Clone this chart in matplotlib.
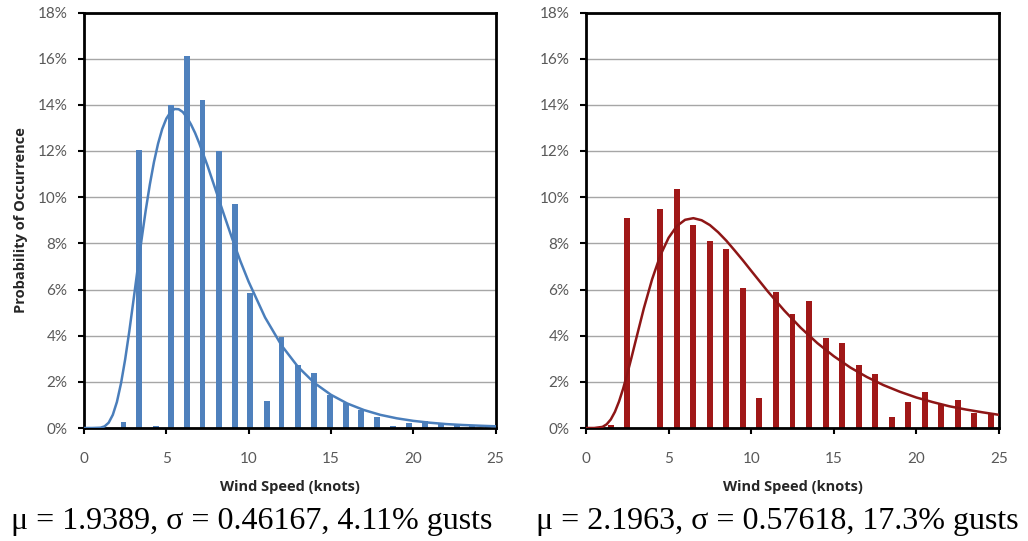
import matplotlib
matplotlib.use("Agg")
import matplotlib.pyplot as plt
from matplotlib.ticker import FuncFormatter

# ---------------- data ----------------
left_x = [2.4, 3.35, 4.35, 5.3, 6.25, 7.2, 8.2, 9.15, 10.1, 11.1, 12.0, 13.0,
          13.95, 14.95, 15.9, 16.85, 17.8, 18.8, 19.75, 20.7, 21.7, 22.65, 23.6, 24.55]
left_y = [0.25, 12.05, 0.1, 14.0, 16.1, 14.2, 12.0, 9.7, 5.85, 1.15, 3.95, 2.72,
          2.4, 1.43, 1.07, 0.78, 0.49, 0.1, 0.23, 0.29, 0.17, 0.13, 0.09, 0.06]

right_x = [1.5, 2.5, 4.5, 5.5, 6.5, 7.5, 8.5, 9.5, 10.5, 11.5, 12.5, 13.5,
           14.5, 15.5, 16.5, 17.5, 18.5, 19.5, 20.5, 21.5, 22.5, 23.5, 24.5]
right_y = [0.15, 9.1, 9.5, 10.35, 8.8, 8.1, 7.75, 6.05, 1.32, 5.88, 4.92, 5.5,
           3.9, 3.68, 2.75, 2.33, 0.46, 1.12, 1.55, 1.02, 1.2, 0.66, 0.66]

# fitted curves
left_curve_x = [0.0, 0.5, 1.0, 1.25, 1.5, 1.75, 2.0, 2.25, 2.5, 2.75, 3.0, 3.25,
                3.5, 3.75, 4.0, 4.25, 4.5, 4.75, 5.0, 5.25, 5.5, 5.75, 6.0, 6.25,
                6.5, 6.75, 7.0, 7.5, 8.0, 8.5, 9.0, 9.5, 10.0, 11.0, 12.0, 13.0,
                14.0, 15.0, 16.0, 17.0, 18.0, 19.0, 20.0, 21.0, 22.0, 23.0, 24.0,
                25.0]
left_curve = [0.0, 0.0, 0.013, 0.07, 0.23, 0.57, 1.13, 1.94, 2.97, 4.18, 5.50,
              6.85, 8.18, 9.43, 10.55, 11.52, 12.32, 12.95, 13.40, 13.68, 13.82,
              13.81, 13.69, 13.46, 13.15, 12.78, 12.34, 11.37, 10.31, 9.25, 8.21,
              7.23, 6.34, 4.79, 3.58, 2.65, 1.95, 1.44, 1.06, 0.78, 0.57, 0.42,
              0.31, 0.23, 0.17, 0.13, 0.10, 0.074]

right_curve_x = [0.0, 0.5, 1.0, 1.25, 1.5, 1.75, 2.0, 2.25, 2.5, 2.75, 3.0, 3.5,
                 4.0, 4.5, 5.0, 5.5, 6.0, 6.5, 7.0, 7.5, 8.0, 8.5, 9.0, 9.5,
                 10.0, 11.0, 12.0, 13.0, 14.0, 15.0, 16.0, 17.0, 18.0, 19.0,
                 20.0, 21.0, 22.0, 23.0, 24.0, 25.0]
right_curve = [0.0, 0.0, 0.048, 0.16, 0.37, 0.70, 1.15, 1.71, 2.35, 3.04, 3.76,
               5.18, 6.44, 7.48, 8.24, 8.75, 9.02, 9.09, 9.00, 8.79, 8.48, 8.11,
               7.69, 7.26, 6.81, 5.92, 5.09, 4.34, 3.68, 3.11, 2.62, 2.21, 1.86,
               1.57, 1.32, 1.12, 0.94, 0.80, 0.68, 0.57]

captions = ["\u03bc = 1.9389, \u03c3 = 0.46167, 4.11% gusts",
            "\u03bc = 2.1963, \u03c3 = 0.57618, 17.3% gusts"]
x_ticks = [0, 5, 10, 15, 20, 25]
y_ticks = [0, 2, 4, 6, 8, 10, 12, 14, 16, 18]

blue_bar = "#4F81BD"
blue_line = "#4A7EBB"
red_bar = "#A01818"
red_line = "#8E1616"

# ---------------- figure ----------------
W, H = 1028, 541
fig = plt.figure(figsize=(W / 100, H / 100), dpi=100)

def axes_px(x0, y0, x1, y1):
    return fig.add_axes([x0 / W, 1 - y1 / H, (x1 - x0) / W, (y1 - y0) / H])

ax1 = axes_px(84, 12.5, 495.5, 428)
ax2 = axes_px(586, 12.5, 999, 428)

tick_family = ["Lato", "DejaVu Sans"]
label_font = dict(family=["Open Sans", "DejaVu Sans"], size=10.5,
                  weight="bold", color="#262626")

def style(ax, ylabel=None):
    ax.set_xlim(0, 25)
    ax.set_ylim(0, 18)
    ax.set_xticks(x_ticks)
    ax.set_yticks(y_ticks)
    ax.yaxis.set_major_formatter(FuncFormatter(lambda v, p: f"{int(round(v))}%"))
    ax.grid(axis="y", color="#A6A6A6", linewidth=1.0)
    ax.set_axisbelow(True)
    for s in ax.spines.values():
        s.set_color("black")
        s.set_linewidth(2.0)
    ax.tick_params(axis="both", direction="out", length=4, width=1.5,
                   color="black")
    ax.tick_params(axis="x", pad=13)
    ax.tick_params(axis="y", pad=8)
    for lab in ax.get_xticklabels() + ax.get_yticklabels():
        lab.set_fontfamily(tick_family)
        lab.set_fontsize(11)
        lab.set_color("#595959")
    ax.set_xlabel("Wind Speed (knots)", labelpad=10, **label_font)
    if ylabel:
        ax.set_ylabel(ylabel, labelpad=7, **label_font)

ax1.bar(left_x, left_y, width=0.36, color=blue_bar, zorder=2)
ax1.plot(left_curve_x, left_curve, color=blue_line, linewidth=1.8, zorder=3)
style(ax1, "Probability of Occurrence")

ax2.bar(right_x, right_y, width=0.36, color=red_bar, zorder=2)
ax2.plot(right_curve_x, right_curve, color=red_line, linewidth=1.8, zorder=3)
style(ax2)

cap_font = dict(family=["Liberation Serif", "DejaVu Serif"], size=23,
                color="black", ha="center", va="center")
fig.text(252 / W, 1 - 521 / H, captions[0], **cap_font)
fig.text(777 / W, 1 - 521 / H, captions[1], **cap_font)

fig.savefig("out.png", dpi=100, facecolor="white")
